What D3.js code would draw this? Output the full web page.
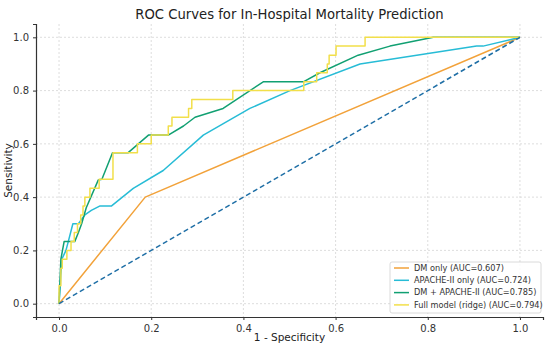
<!DOCTYPE html>
<html>
<head>
<meta charset="utf-8">
<script src="https://cdn.jsdelivr.net/npm/d3@7"></script>
<style>
  body { margin: 0; background: #fff; }
  svg { font-family: "DejaVu Sans", sans-serif; }
</style>
</head>
<body>
<div id="chart"></div>
<script>
// ROC points as [fpr, tpr]
var dmOnly = [[0, 0], [0.187, 0.4], [1, 1]];
var apacheOnly = [[0, 0], [0.006, 0.167], [0.015, 0.2], [0.02, 0.233], [0.03, 0.3], [0.042, 0.3],
  [0.056, 0.333], [0.07, 0.35], [0.089, 0.367], [0.114, 0.367], [0.161, 0.433], [0.226, 0.5],
  [0.313, 0.633], [0.414, 0.733], [0.501, 0.8], [0.653, 0.9], [0.906, 0.967], [0.92, 0.967], [1, 1]];
var dmApache = [[0, 0], [0.004, 0.167], [0.011, 0.233], [0.034, 0.233], [0.042, 0.267], [0.049, 0.3],
  [0.059, 0.36], [0.085, 0.464], [0.093, 0.467], [0.116, 0.567], [0.15, 0.567], [0.194, 0.633],
  [0.237, 0.633], [0.27, 0.667], [0.295, 0.7], [0.356, 0.733], [0.443, 0.833], [0.53, 0.833],
  [0.566, 0.867], [0.649, 0.933], [0.718, 0.967], [0.812, 1], [1, 1]];
var fullModel = [[0, 0], [0, 0.067], [0.004, 0.067], [0.004, 0.133], [0.007, 0.133], [0.007, 0.167],
  [0.017, 0.167], [0.017, 0.2], [0.026, 0.2], [0.026, 0.233], [0.033, 0.233], [0.033, 0.267],
  [0.04, 0.267], [0.04, 0.3], [0.047, 0.3], [0.047, 0.333], [0.052, 0.333], [0.052, 0.367],
  [0.056, 0.367], [0.056, 0.4], [0.067, 0.4], [0.067, 0.433], [0.087, 0.433], [0.087, 0.467],
  [0.117, 0.467], [0.117, 0.567], [0.17, 0.567], [0.17, 0.6], [0.2, 0.6], [0.2, 0.633],
  [0.237, 0.633], [0.237, 0.667], [0.245, 0.667], [0.245, 0.7], [0.281, 0.7], [0.281, 0.733],
  [0.288, 0.733], [0.288, 0.767], [0.377, 0.767], [0.377, 0.8], [0.531, 0.8], [0.531, 0.833],
  [0.559, 0.833], [0.559, 0.867], [0.582, 0.867], [0.582, 0.9], [0.586, 0.9], [0.586, 0.933],
  [0.601, 0.933], [0.601, 0.967], [0.664, 0.967], [0.664, 1], [1, 1]];
var chance = [[0, 0], [1, 1]];

var seriesNames = ["DM only (AUC=0.607)", "APACHE-II only (AUC=0.724)",
  "DM + APACHE-II (AUC=0.785)", "Full model (ridge) (AUC=0.794)"];
var seriesColors = ["#f2a23a", "#27bcd6", "#11a072", "#f2df4a"];
var tickValues = [0, 0.2, 0.4, 0.6, 0.8, 1.0];

var width = 550, height = 347;
var margin = {top: 24, right: 7, bottom: 30, left: 36};
var innerW = width - margin.left - margin.right;
var innerH = height - margin.top - margin.bottom;

var svg = d3.select("#chart").append("svg")
  .attr("width", width)
  .attr("height", height);

var x = d3.scaleLinear().domain([-0.05, 1.05]).range([0, innerW]);
var y = d3.scaleLinear().domain([-0.05, 1.05]).range([innerH, 0]);

var g = svg.append("g").attr("transform", `translate(${margin.left},${margin.top})`);

// grid
g.append("g").selectAll("line").data(tickValues).enter().append("line")
  .attr("x1", d => x(d)).attr("x2", d => x(d))
  .attr("y1", 0).attr("y2", innerH)
  .attr("stroke", "#d6d6d6").attr("stroke-width", 0.8).attr("stroke-dasharray", "2,2");
g.append("g").selectAll("line").data(tickValues).enter().append("line")
  .attr("y1", d => y(d)).attr("y2", d => y(d))
  .attr("x1", 0).attr("x2", innerW)
  .attr("stroke", "#d6d6d6").attr("stroke-width", 0.8).attr("stroke-dasharray", "2,2");

var line = d3.line().x(d => x(d[0])).y(d => y(d[1]));

var allSeries = [dmOnly, apacheOnly, dmApache, fullModel];
allSeries.forEach(function(s, i) {
  g.append("path")
    .attr("d", line(s))
    .attr("fill", "none")
    .attr("stroke", seriesColors[i])
    .attr("stroke-width", 1.5)
    .attr("stroke-linejoin", "round");
});

g.append("path")
  .attr("d", line(chance))
  .attr("fill", "none")
  .attr("stroke", "#1f6fa6")
  .attr("stroke-width", 1.5)
  .attr("stroke-dasharray", "5,3");

// axes
var xAxis = g.append("g").attr("transform", `translate(0,${innerH})`)
  .call(d3.axisBottom(x).tickValues(tickValues).tickFormat(d3.format(".1f")).tickSize(3));
var yAxis = g.append("g")
  .call(d3.axisLeft(y).tickValues(tickValues).tickFormat(d3.format(".1f")).tickSize(3));
[xAxis, yAxis].forEach(function(a) {
  a.select(".domain").attr("stroke", "#333").attr("stroke-width", 1.2);
  a.selectAll(".tick line").attr("stroke", "#333");
  a.selectAll("text").attr("font-size", 10).attr("fill", "#333")
    .attr("font-family", "DejaVu Sans");
});
xAxis.selectAll("text").attr("dy", "0.85em");
yAxis.selectAll("text").attr("dx", "-0.1em");

// title and labels
svg.append("text")
  .attr("x", margin.left + innerW / 2).attr("y", 19)
  .attr("text-anchor", "middle").attr("font-size", 13.2).attr("fill", "#222")
  .text("ROC Curves for In-Hospital Mortality Prediction");
svg.append("text")
  .attr("x", margin.left + innerW / 2).attr("y", 341)
  .attr("text-anchor", "middle").attr("font-size", 10.5).attr("fill", "#222")
  .text("1 - Specificity");
svg.append("text")
  .attr("transform", `translate(12,${margin.top + innerH / 2}) rotate(-90)`)
  .attr("text-anchor", "middle").attr("font-size", 10.5).attr("fill", "#222")
  .text("Sensitivity");

// legend
var legend = svg.append("g").attr("transform", "translate(390,262)");
legend.append("rect")
  .attr("width", 151).attr("height", 51).attr("rx", 2)
  .attr("fill", "#fff").attr("fill-opacity", 0.85)
  .attr("stroke", "#d0d0d0").attr("stroke-width", 0.8);
seriesNames.forEach(function(name, i) {
  var yy = 6 + i * 12.3;
  legend.append("line")
    .attr("x1", 4).attr("x2", 19).attr("y1", yy).attr("y2", yy)
    .attr("stroke", seriesColors[i]).attr("stroke-width", 1.5);
  legend.append("text")
    .attr("x", 24).attr("y", yy).attr("dy", "0.35em")
    .attr("font-size", 8.2).attr("fill", "#333")
    .text(name);
});
</script>
</body>
</html>
